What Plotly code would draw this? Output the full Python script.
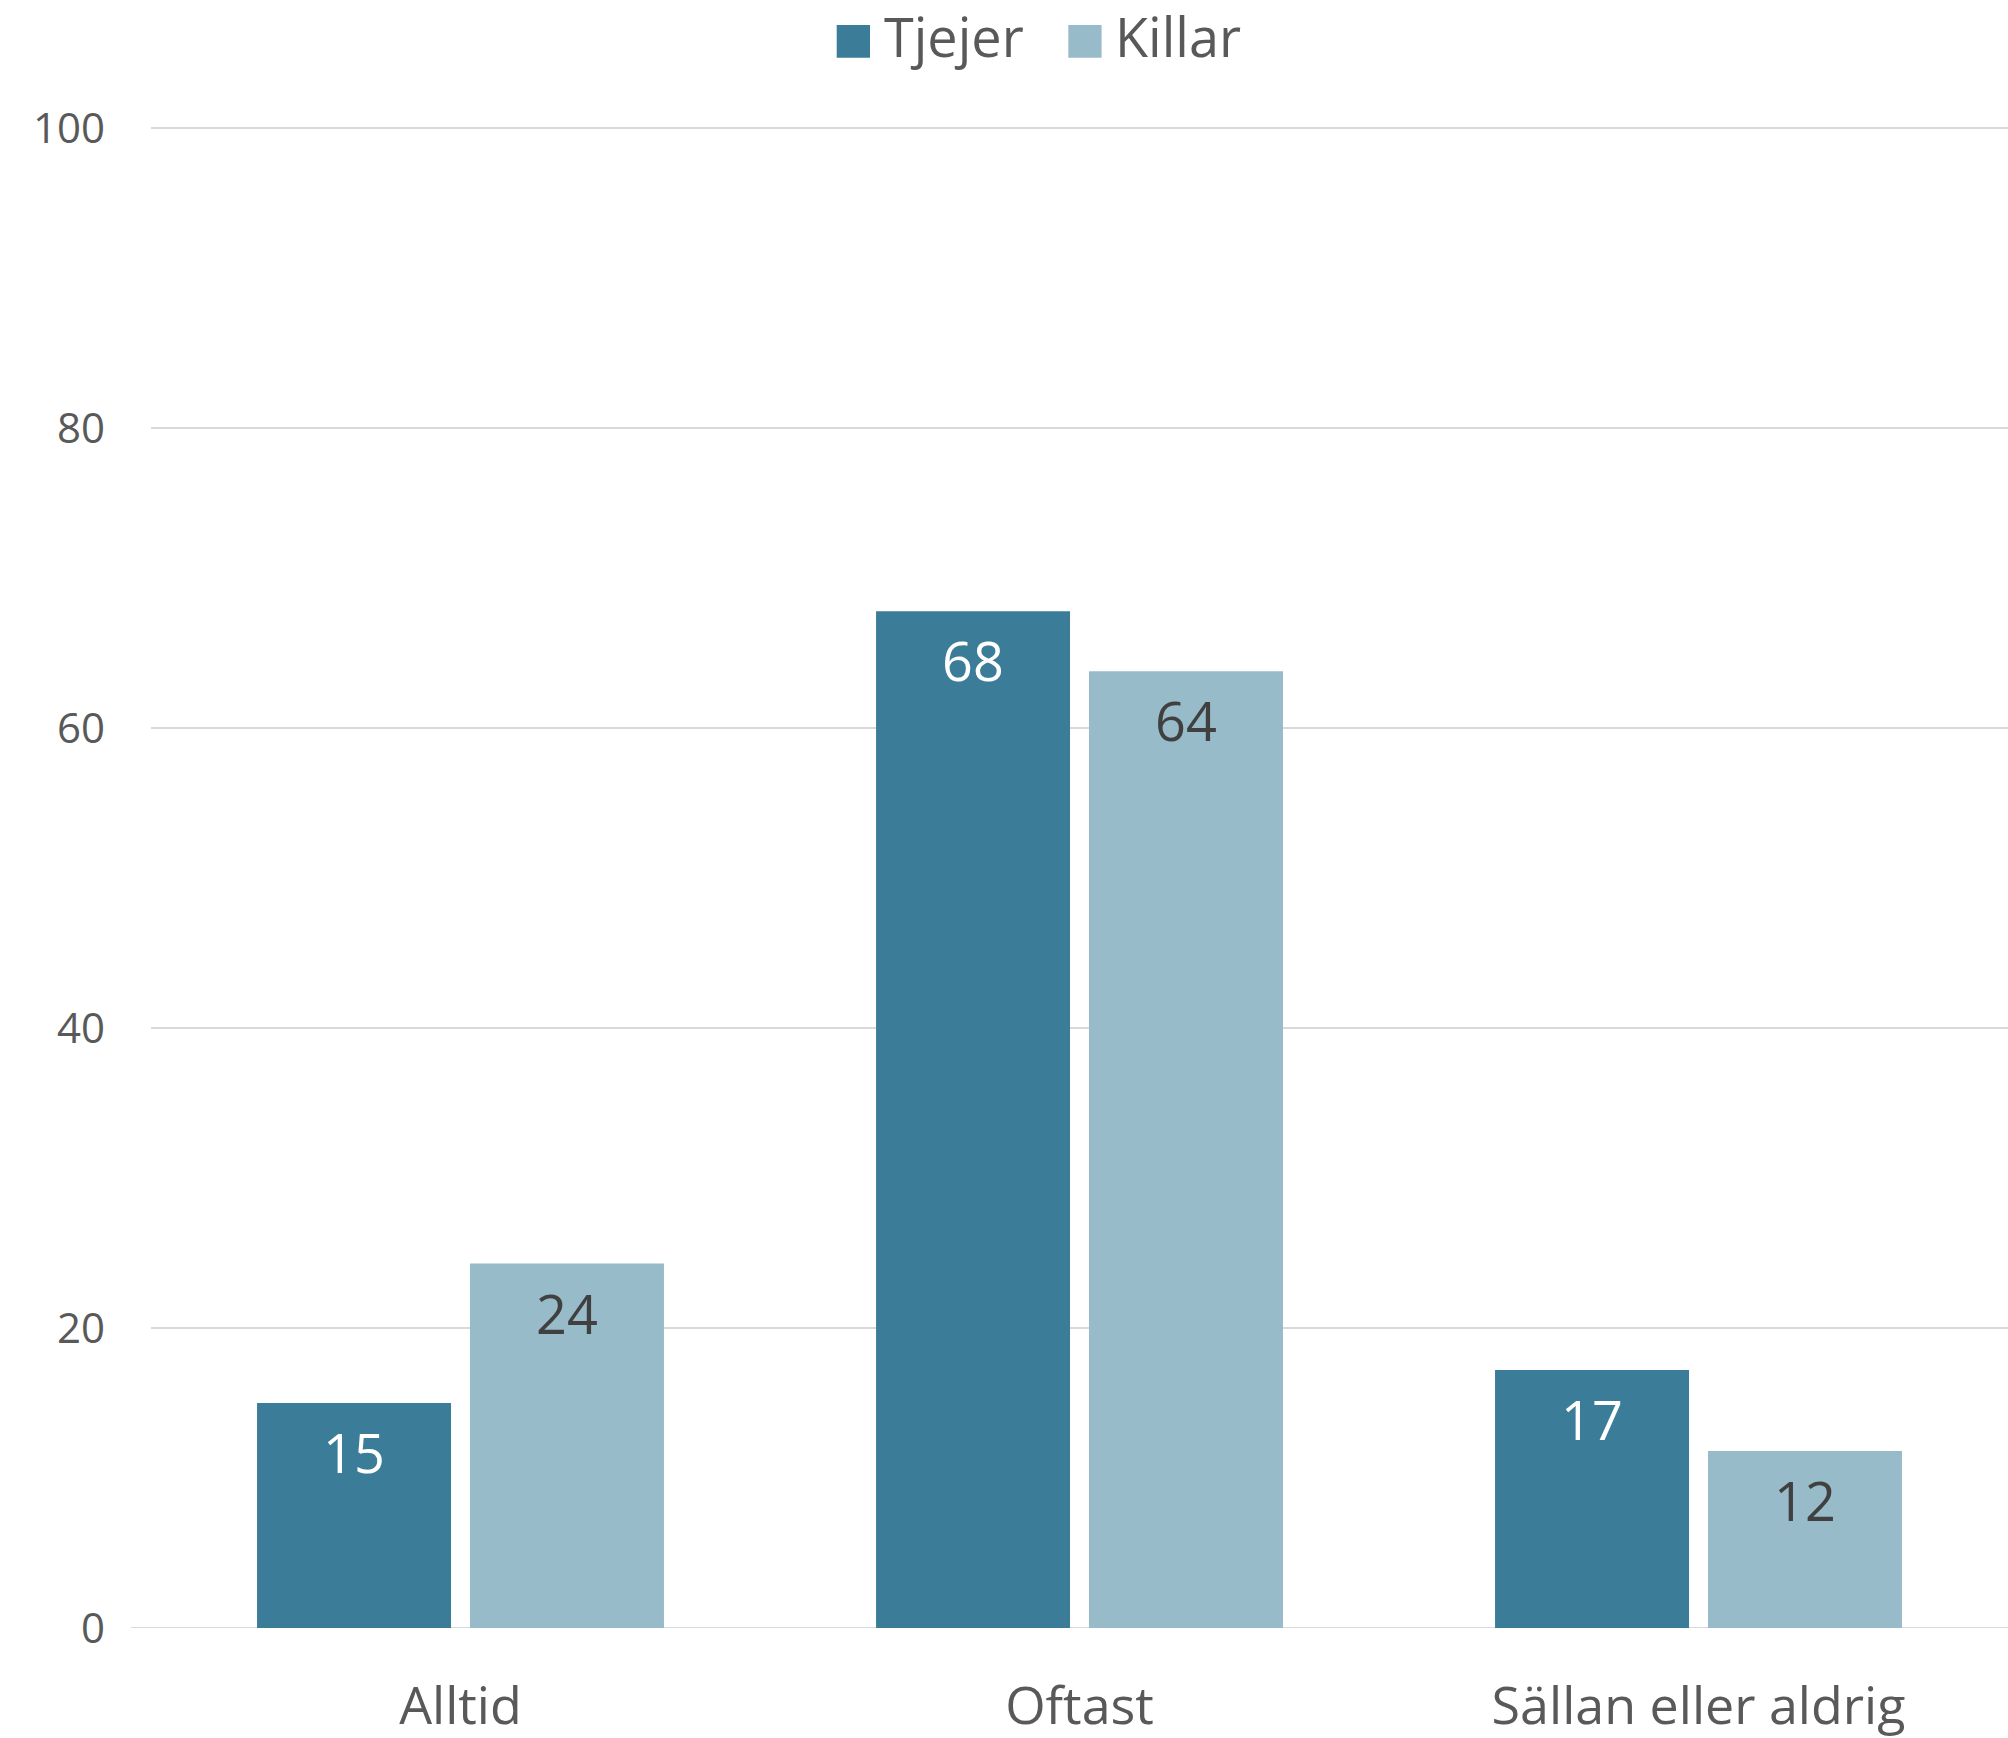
import plotly.graph_objects as go

categories = ["Alltid", "Oftast", "Sällan eller aldrig"]
series_names = ["Tjejer", "Killar"]
tjejer = [15.0, 67.8, 17.2]
killar = [24.3, 63.8, 11.8]
y_ticks = [0, 20, 40, 60, 80, 100]
y_ticklabels = ["0", "20", "40", "60", "80", "100"]

colors = ["#3B7D99", "#97BBC9"]
text_colors = ["#FFFFFF", "#404040"]
FONT = "Open Sans"

W, H = 2008, 1738
ML, MR, MT, MB = 151, 0, 127, 110
PW = W - ML - MR
PH = H - MT - MB
BARGAP = 0.312
BARGROUPGAP = 0.089

fig = go.Figure()
for name, vals, col in zip(series_names, [tjejer, killar], colors):
    fig.add_trace(go.Bar(
        x=categories, y=vals, name=name,
        marker=dict(color=col, line=dict(width=0)),
        showlegend=False,
        hoverinfo="skip",
    ))

def px_x(px):
    return (px - ML) / PW

def px_y(py):
    return (H - MB - py) / PH

shapes = []
annotations = []

# value labels just inside the top of each bar
slot_px = PW / len(categories) * (1 - BARGAP) / len(series_names)
for i, (vals, tcol) in enumerate(zip([tjejer, killar], text_colors)):
    xshift = (i - (len(series_names) - 1) / 2) * slot_px
    for cat, v in zip(categories, vals):
        annotations.append(dict(x=cat, y=v, xref="x", yref="y", xshift=xshift, yshift=-10,
                                xanchor="center", yanchor="top", showarrow=False,
                                text=f"{v:.0f}", font=dict(family=FONT, size=54, color=tcol)))

# manual legend (large squares)
legend_items = [(series_names[0], colors[0], 836.7), (series_names[1], colors[1], 1068.3)]
for name, col, sx in legend_items:
    shapes.append(dict(type="rect", xref="paper", yref="paper",
                       x0=px_x(sx), x1=px_x(sx + 33.3), y0=px_y(57.7), y1=px_y(25),
                       fillcolor=col, line=dict(width=0)))
    annotations.append(dict(xref="paper", yref="paper", x=px_x(sx + 45), y=px_y(36),
                            xanchor="left", yanchor="middle", showarrow=False,
                            text=name, font=dict(family=FONT, size=54, color="#595959")))

# zero line extending slightly left of gridlines
shapes.append(dict(type="line", xref="paper", yref="y", x0=px_x(131), x1=1, y0=0, y1=0,
                   line=dict(color="#D9D9D9", width=2), layer="below"))

fig.update_layout(
    width=W, height=H,
    margin=dict(l=ML, r=MR, t=MT, b=MB, pad=0, autoexpand=False),
    paper_bgcolor="white", plot_bgcolor="white",
    barmode="group", bargap=BARGAP, bargroupgap=BARGROUPGAP,
    font=dict(family=FONT, color="#595959"),
    showlegend=False,
    shapes=shapes, annotations=annotations,
    xaxis=dict(showgrid=False, zeroline=False, showline=False, ticks="",
               automargin=False,
               tickfont=dict(family=FONT, size=52, color="#595959"),
               ticklabelstandoff=43),
    yaxis=dict(range=[0, 100.08], tickvals=y_ticks, ticktext=y_ticklabels,
               automargin=False,
               showgrid=True, gridcolor="#D9D9D9", gridwidth=1.5,
               zeroline=False, showline=False, ticks="",
               tickfont=dict(family=FONT, size=42, color="#595959"),
               ticklabelstandoff=45),
)

fig.write_html("out.html", config={"displayModeBar": False},
               post_script="document.body.style.margin='0px';document.body.style.overflow='hidden';")
